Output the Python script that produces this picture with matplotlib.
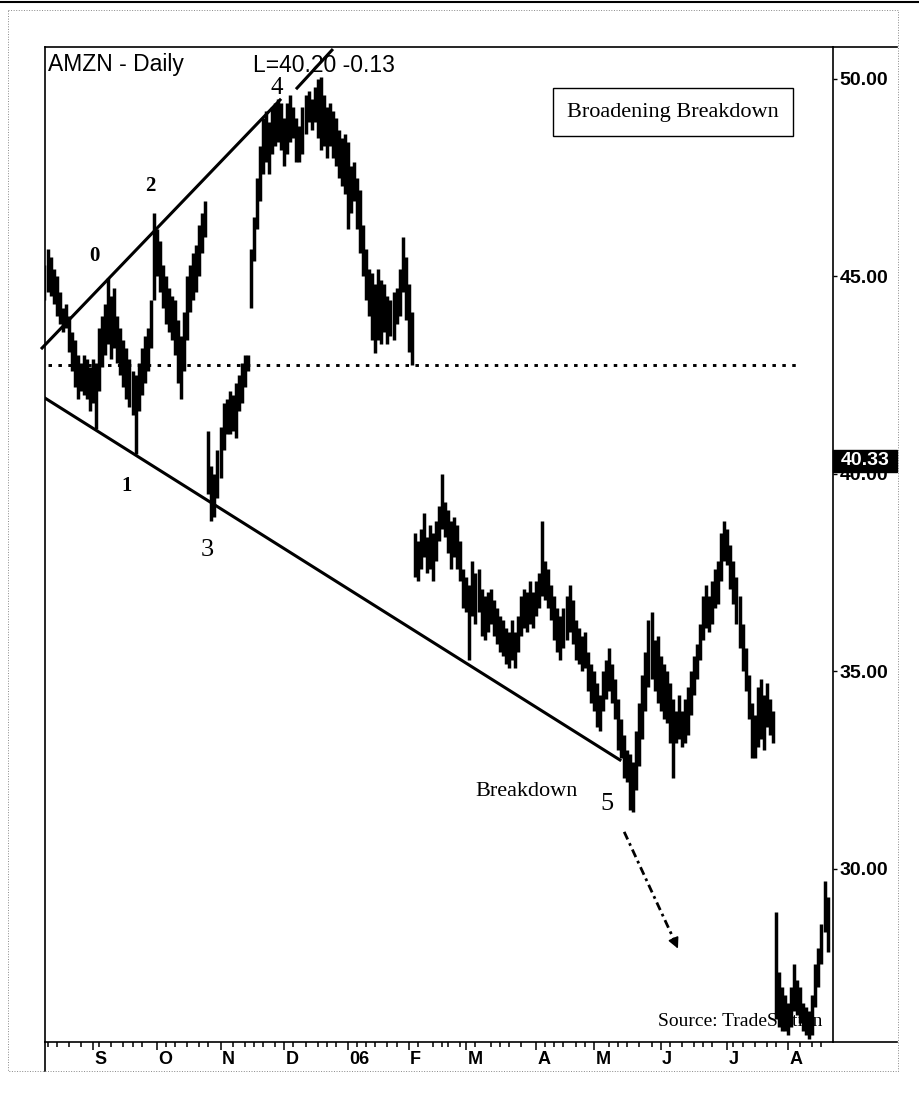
import numpy as np
import pandas as pd
import matplotlib
matplotlib.use("Agg")
from matplotlib import pyplot as plt
from matplotlib.lines import Line2D
from matplotlib.patches import Rectangle
import matplotlib.transforms as mtransforms

plt.rcParams['font.family'] = ['Liberation Sans', 'DejaVu Sans']

# NYSE holidays inside the window (trading-day axis, like TradeStation)
holidays = ["2005-09-05", "2005-11-24", "2005-12-26", "2006-01-02", "2006-01-16",
            "2006-02-20", "2006-04-14", "2006-05-29", "2006-07-04"]
dates = pd.bdate_range("2005-08-10", "2006-08-18", freq="C", holidays=holidays)

# daily highs / lows
highs = [45.3, 45.7, 45.5, 45.2, 45.0, 44.6, 44.2, 44.3, 44.0, 43.6,
         43.4, 43.0, 42.8, 43.0, 42.9, 42.7, 42.9, 42.8, 43.7, 44.0,
         44.3, 44.96, 44.5, 44.7, 44.0, 43.7, 43.4, 43.2, 42.9, 42.6,
         42.5, 42.8, 43.2, 43.5, 43.7, 44.4, 46.6, 46.2, 45.9, 45.3,
         45.0, 44.7, 44.5, 44.4, 43.9, 43.5, 44.1, 45.0, 45.3, 45.6,
         45.8, 46.3, 46.6, 46.9, 41.1, 40.2, 40.0, 40.6, 41.2, 41.8,
         41.9, 42.1, 42.0, 42.3, 42.5, 42.8, 43.0, 43.0, 45.7, 46.5,
         47.5, 48.3, 49.0, 49.2, 48.9, 49.3, 49.4, 49.5, 49.4, 49.0,
         49.4, 49.6, 49.3, 49.0, 48.8, 49.3, 49.6, 49.7, 49.5, 49.8,
         50.0, 50.05, 49.6, 49.3, 49.4, 49.2, 49.0, 48.7, 48.5, 48.6,
         48.4, 47.8, 47.9, 47.5, 47.2, 46.3, 45.7, 45.2, 45.1, 44.8,
         45.2, 44.9, 44.8, 44.5, 44.4, 44.6, 44.7, 45.2, 46.0, 45.5,
         44.8, 44.1, 38.5, 38.3, 38.6, 39.0, 38.4, 38.7, 38.5, 38.8,
         39.2, 40.0, 39.3, 39.1, 38.8, 38.9, 38.7, 38.3, 37.6, 37.4,
         37.2, 37.8, 37.5, 37.6, 37.1, 36.9, 37.0, 37.1, 36.8, 36.6,
         36.4, 36.3, 36.1, 36.0, 36.3, 36.0, 36.4, 36.9, 37.1, 37.0,
         37.3, 37.0, 37.3, 37.5, 38.8, 37.8, 37.6, 37.2, 36.9, 36.6,
         36.4, 36.6, 36.9, 37.2, 36.8, 36.3, 36.1, 35.9, 36.0, 35.5,
         35.2, 35.0, 34.7, 34.4, 35.0, 35.3, 35.6, 35.2, 34.8, 34.3,
         33.8, 33.4, 33.0, 32.9, 32.7, 33.5, 34.2, 34.9, 35.5, 36.3,
         36.5, 35.8, 35.9, 35.4, 35.2, 35.0, 34.7, 34.3, 34.0, 34.4,
         34.0, 34.3, 34.6, 35.0, 35.4, 35.7, 36.2, 36.9, 37.2, 36.9,
         37.3, 37.6, 37.8, 38.5, 38.8, 38.6, 38.2, 37.8, 37.4, 36.9,
         36.2, 35.6, 34.9, 34.2, 33.9, 34.6, 34.8, 34.4, 34.7, 34.3,
         34.0, 28.9, 27.4, 27.0, 26.8, 26.6, 27.0, 27.6, 27.2, 27.0,
         26.6, 26.5, 26.4, 26.8, 27.6, 28.0, 28.6, 29.7, 29.3]
lows = [44.4, 44.6, 44.5, 44.3, 44.0, 43.8, 43.6, 43.7, 43.1, 42.6,
        42.2, 41.9, 42.1, 42.0, 41.9, 41.6, 41.8, 41.15, 42.1, 42.7,
        43.0, 43.3, 42.9, 43.2, 42.8, 42.5, 42.2, 41.9, 41.7, 41.5,
        40.5, 41.6, 42.0, 42.3, 42.6, 43.2, 44.4, 45.0, 44.6, 44.2,
        43.8, 43.6, 43.4, 43.0, 42.3, 41.9, 42.6, 43.4, 44.1, 44.4,
        44.6, 45.0, 45.6, 46.0, 39.5, 38.8, 38.9, 39.4, 39.9, 40.6,
        41.0, 41.0, 41.1, 40.9, 41.6, 41.8, 42.2, 42.6, 44.2, 45.4,
        46.2, 46.9, 47.6, 47.9, 47.6, 48.1, 48.3, 48.4, 48.2, 47.8,
        48.1, 48.4, 48.5, 47.9, 47.9, 48.1, 48.6, 48.9, 48.7, 48.9,
        48.5, 48.2, 48.3, 48.0, 48.3, 48.0, 47.8, 47.5, 47.3, 47.1,
        46.2, 46.6, 46.9, 46.2, 45.6, 45.0, 44.4, 44.0, 43.4, 43.06,
        43.4, 43.3, 43.6, 43.3, 43.5, 43.4, 43.8, 44.0, 44.6, 43.9,
        43.1, 42.76, 37.4, 37.3, 37.6, 37.9, 37.5, 37.6, 37.3, 37.8,
        38.3, 38.6, 38.4, 38.0, 37.6, 37.9, 37.6, 37.3, 36.6, 36.5,
        35.3, 36.4, 36.2, 36.5, 35.9, 35.8, 36.0, 36.2, 35.9, 35.7,
        35.5, 35.4, 35.2, 35.1, 35.3, 35.1, 35.5, 35.9, 36.1, 36.0,
        36.2, 36.1, 36.4, 36.6, 36.9, 36.8, 36.6, 36.3, 35.8, 35.5,
        35.3, 35.6, 35.8, 36.0, 35.7, 35.3, 35.2, 35.0, 35.1, 34.5,
        34.2, 34.0, 33.6, 33.5, 34.0, 34.3, 34.5, 34.2, 33.8, 33.0,
        32.8, 32.3, 32.2, 31.5, 31.44, 32.0, 32.6, 33.3, 34.0, 34.6,
        34.8, 34.5, 34.2, 34.0, 33.8, 33.7, 33.2, 32.3, 33.2, 33.3,
        33.1, 33.2, 33.4, 33.9, 34.4, 34.8, 35.3, 35.8, 36.1, 36.0,
        36.2, 36.6, 36.7, 37.3, 37.8, 37.7, 37.1, 36.7, 36.2, 35.6,
        35.0, 34.5, 33.8, 32.8, 32.8, 33.1, 33.3, 33.0, 33.6, 33.4,
        33.2, 26.2, 26.0, 25.9, 25.9, 25.8, 26.0, 26.4, 26.3, 26.1,
        25.9, 25.8, 25.7, 25.8, 26.5, 27.0, 27.6, 28.4, 27.9]

month_labels = ["S", "O", "N", "D", "06", "F", "M", "A", "M", "J", "J", "A"]
price_ticks = [30, 35, 40, 45, 50]
last_price = 40.33
neckline = 42.76

# trend lines: (bar index, price) end points
upper_line = ([-0.8, 77.6], [43.19, 49.47])
upper_ext = ([83.2, 94.7], [49.77, 50.73])
lower_line = ([0.2, 189.6], [41.92, 32.76])
neck_span = [1.1, 248.3]
arrow_from = (191.0, 30.94)
arrow_to = (209.1, 27.92)

swing_labels = [("0", 16.3, 45.52, 15, "bold"), ("1", 27.2, 39.70, 15, "bold"),
                ("2", 34.8, 47.29, 15, "bold"), ("3", 53.5, 38.08, 19, "normal"),
                ("4", 76.6, 49.77, 18, "normal"), ("5", 185.3, 31.65, 19, "normal")]

W, H = 919, 1101
def fx(x): return x / W
def fy(y): return 1 - y / H

fig = plt.figure(figsize=(W / 100, H / 100), dpi=100)
fig.patch.set_facecolor("white")
ax = fig.add_axes([fx(45), fy(1042), (833 - 45) / W, (1042 - 47) / H])

k = np.arange(len(dates))
ax.vlines(k, lows, highs, color="black", lw=2.5, zorder=3)

ax.set_xlim(0.165, 259.8)
ax.set_ylim(25.62, 50.81)

# trend lines and neckline
ax.plot(upper_line[0], upper_line[1], color="black", lw=2.2, clip_on=False, zorder=4)
ax.plot(upper_ext[0], upper_ext[1], color="black", lw=2.2, clip_on=False, zorder=4)
ax.plot(lower_line[0], lower_line[1], color="black", lw=2.2, zorder=4)
ax.plot(neck_span, [neckline, neckline], color="black", lw=2.1,
        ls=(0, (1.2, 2.2)), zorder=4)

# breakdown arrow
ax.plot([arrow_from[0], arrow_to[0] - 0.8], [arrow_from[1], arrow_to[1] + 0.14],
        color="black", lw=2.0, ls=(0, (3, 1.5, 1, 1.5)), zorder=4)
ax.annotate("", xy=arrow_to, xytext=(arrow_to[0] - 1.6, arrow_to[1] + 0.27),
            arrowprops=dict(arrowstyle="-|>", color="black", lw=1.2, mutation_scale=16))

# axes styling
for side in ["left", "top", "right", "bottom"]:
    ax.spines[side].set_linewidth(1.2)
    ax.spines[side].set_color("black")

ax.yaxis.tick_right()
ax.set_yticks(price_ticks)
ax.set_yticklabels([f"{p:.2f}" for p in price_ticks], fontsize=14, fontweight="bold")
ax.tick_params(axis="y", direction="out", length=3, width=1, pad=1.5)

month_starts = [i for i in range(1, len(dates)) if dates[i].month != dates[i - 1].month]
minor = []
for i in range(1, len(dates)):
    if dates[i].month == dates[i - 1].month:
        for d in (6, 11, 16, 21, 26):
            if dates[i - 1].day < d <= dates[i].day:
                minor.append(i)
ax.set_xticks(month_starts)
ax.set_xticklabels([])
ax.set_xticks(minor, minor=True)
ax.tick_params(axis="x", which="major", direction="out", length=6, width=1.1)
ax.tick_params(axis="x", which="minor", direction="out", length=3.5, width=1.1)

trans = mtransforms.blended_transform_factory(ax.transData, ax.transAxes)
for m, lab in zip(month_starts, month_labels):
    ax.text(m + 0.5, -18 / 995, lab, transform=trans, ha="left", va="center",
            fontsize=13, fontweight="bold")

# last price marker on the scale
ytrans = mtransforms.blended_transform_factory(ax.transAxes, ax.transData)
ax.add_patch(Rectangle((1.0, last_price - 0.29), 64 / 788, 0.58, transform=ytrans,
                       facecolor="black", edgecolor="black", clip_on=False, zorder=6))
ax.text(1.0 + 32 / 788, last_price, f"{last_price:.2f}", transform=ytrans,
        ha="center", va="center", color="white", fontsize=14, fontweight="bold", zorder=7)

# texts
ax.text(3 / 788, (1042 - 65) / 995, "AMZN - Daily", transform=ax.transAxes,
        ha="left", va="center", fontsize=16.5)
ax.text(208 / 788, (1042 - 65) / 995, "L=40.20 -0.13", transform=ax.transAxes,
        ha="left", va="center", fontsize=16.5)
ax.text((673 - 45) / 788, (1042 - 112) / 995, "Broadening Breakdown",
        transform=ax.transAxes, ha="center", va="center", fontsize=16,
        family="Liberation Serif",
        bbox=dict(boxstyle="square,pad=0.65", facecolor="white", edgecolor="black", lw=1))
for txt, xk, yp, size, weight in swing_labels:
    ax.text(xk, yp, txt, ha="center", va="center", fontsize=size, fontweight=weight,
            family="Liberation Serif", zorder=5)
ax.text(158.7, 31.97, "Breakdown", ha="center", va="center", fontsize=16,
        family="Liberation Serif", zorder=5)
ax.text(229.2, 26.15, "Source: TradeStation", ha="center", va="center", fontsize=14,
        family="Liberation Serif", zorder=5)

# frame pieces around the price scale and date strip
def fline(xs, ys, **kw):
    fig.add_artist(Line2D([fx(x) for x in xs], [fy(y) for y in ys], **kw))

fline([833, 897], [47, 47], color="black", lw=1.2)
fline([833, 897], [1042, 1042], color="black", lw=1.2)
fline([45, 45], [1042, 1071], color="black", lw=1.2)
fline([8, 898, 898, 8, 8], [10, 10, 1071, 1071, 10], color="#888888", lw=0.7, ls=":")
fline([0, 919], [2, 2], color="black", lw=1.5)

fig.savefig("out.png", dpi=100)
